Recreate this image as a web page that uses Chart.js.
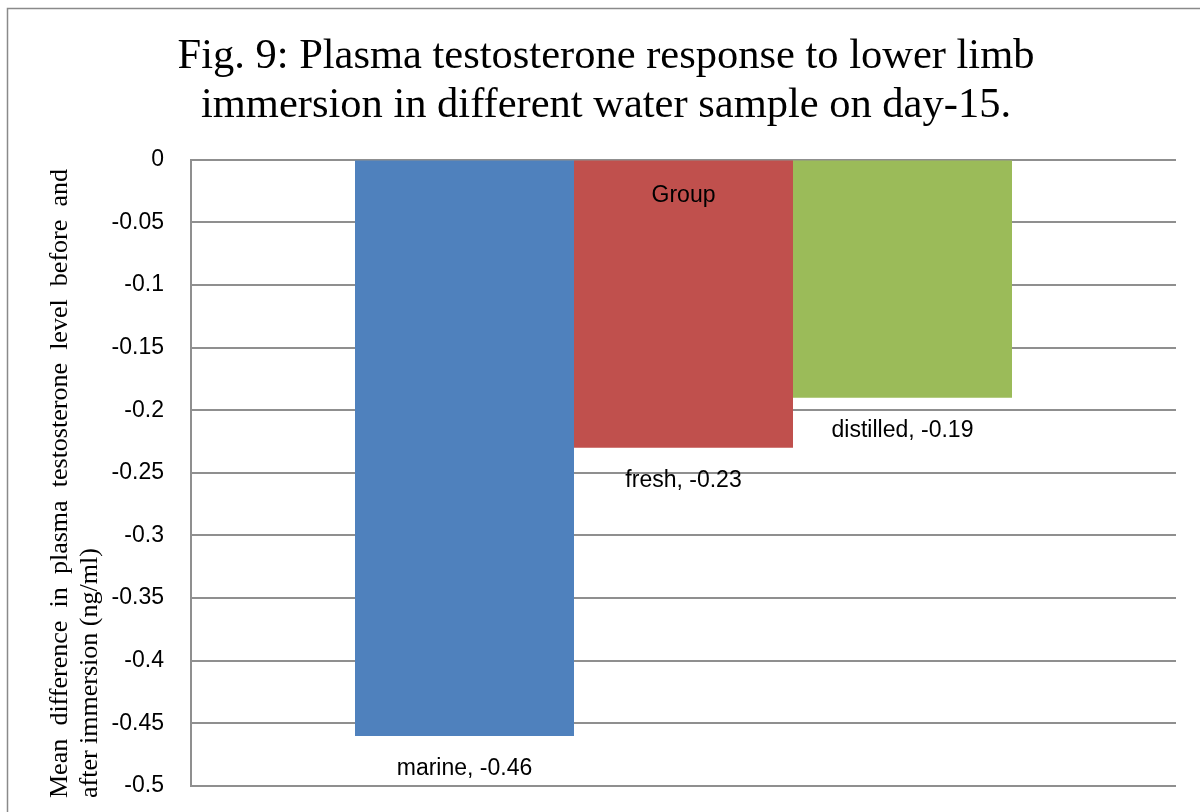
<!DOCTYPE html>
<html>
<head>
<meta charset="utf-8">
<script src="https://cdn.jsdelivr.net/npm/chart.js@4/dist/chart.umd.min.js"></script>
<style>
  html, body { margin:0; padding:0; background:#fff; }
  #wrap { width:1200px; height:812px; }
</style>
</head>
<body>
<div id="wrap"><canvas id="c" width="1200" height="812"></canvas></div>
<script>
// 데이터
const CATEGORIES = ['Group'];
const SERIES_NAMES = ['marine', 'fresh', 'distilled'];
const SERIES_VALUES = [[-0.46], [-0.23], [-0.19]];
const SERIES_COLORS = ['#4F81BD', '#C0504D', '#9BBB59'];
const Y_MIN = -0.5, Y_MAX = 0, Y_STEP = 0.05;

const TITLE_LINES = ['Fig. 9: Plasma testosterone response to lower limb', 'immersion in different water sample on day-15.'];
const Y_TITLE_LINES = ['Mean difference in plasma testosterone level before and', 'after immersion (ng/ml)'];

const GRID = '#8f8f8f';
const SANS = '"Liberation Sans", Arial, sans-serif';
const SERIF = '"Liberation Serif", "Times New Roman", serif';

/* ---------- 플러그인 ---------- */
// 바깥 테두리
const frame = {
  id: 'frame',
  beforeDraw(chart){
    const ctx = chart.ctx;
    ctx.save();
    ctx.strokeStyle = '#8a8a8a';
    ctx.lineWidth = 1.5;
    ctx.strokeRect(7.5, 8.5, 1300, 900);
    ctx.restore();
  }
};

// 막대 끝 아래 "이름, 값" 라벨 + 0 축 아래 분류 라벨
const barLabels = {
  id: 'barLabels',
  afterDatasetsDraw(chart){
    const ctx = chart.ctx;
    const xs = chart.scales.x, ys = chart.scales.y;
    ctx.save();
    ctx.font = '23px ' + SANS;
    ctx.fillStyle = '#000';
    ctx.textAlign = 'center';
    ctx.textBaseline = 'middle';
    chart.data.datasets.forEach((ds, i)=>{
      chart.getDatasetMeta(i).data.forEach((bar, j)=>{
        ctx.fillText(ds.label + ', ' + ds.data[j], bar.x, bar.y + 33);
      });
    });
    // 값 0 위치(위쪽)에 걸친 범주축 라벨
    CATEGORIES.forEach((c, i)=>{
      ctx.fillText(c, xs.getPixelForTick(i), ys.getPixelForValue(0) + 36);
    });
    ctx.restore();
  }
};

// 세로축 제목 (양쪽 정렬 첫 줄)
const yTitle = {
  id: 'yTitle',
  afterDraw(chart){
    const ctx = chart.ctx;
    const start = 798, end = 169;
    ctx.save();
    ctx.font = '26px ' + SERIF;
    ctx.fillStyle = '#000';
    ctx.textBaseline = 'alphabetic';
    ctx.textAlign = 'left';

    // 첫 줄: 단어 간격을 늘려 길이 맞춤
    const words = Y_TITLE_LINES[0].split(' ');
    const widths = words.map(w=>ctx.measureText(w).width);
    const gap = (start - end - widths.reduce((a,b)=>a+b,0)) / (words.length - 1);
    ctx.save();
    ctx.translate(67, start);
    ctx.rotate(-Math.PI/2);
    let x = 0;
    words.forEach((w, i)=>{ ctx.fillText(w, x, 0); x += widths[i] + gap; });
    ctx.restore();

    ctx.save();
    ctx.translate(97, start);
    ctx.rotate(-Math.PI/2);
    ctx.fillText(Y_TITLE_LINES[1], 0, 0);
    ctx.restore();
    ctx.restore();
  }
};

/* ---------- 차트 ---------- */
new Chart(document.getElementById('c'), {
  type: 'bar',
  data: {
    labels: CATEGORIES,
    datasets: SERIES_NAMES.map((name, i)=>({
      label: name,
      data: SERIES_VALUES[i],
      backgroundColor: SERIES_COLORS[i],
      borderWidth: 0,
      categoryPercentage: 0.667,
      barPercentage: 1
    }))
  },
  options: {
    responsive: false,
    animation: false,
    layout: { padding: { left: 36, right: 24, top: 0, bottom: 26 } },
    plugins: {
      legend: { display: false },
      tooltip: { enabled: false },
      title: {
        display: true,
        text: TITLE_LINES,
        color: '#000',
        font: { family: SERIF, size: 42.5, weight: 'normal', lineHeight: 1.16 },
        padding: { top: 32, bottom: 29 }
      }
    },
    scales: {
      x: {
        display: false
      },
      y: {
        min: Y_MIN,
        max: Y_MAX,
        afterFit: s=>{ s.width = 155; s.paddingTop = 0; s.paddingBottom = 0; },
        ticks: {
          stepSize: Y_STEP,
          color: '#000',
          padding: 27,
          font: { family: SANS, size: 23 },
          callback: v=>String(+v.toFixed(2))
        },
        grid: { color: GRID, lineWidth: 2, drawTicks: false },
        border: { display: true, color: GRID, width: 2 }
      }
    }
  },
  plugins: [frame, barLabels, yTitle]
});
</script>
</body>
</html>
